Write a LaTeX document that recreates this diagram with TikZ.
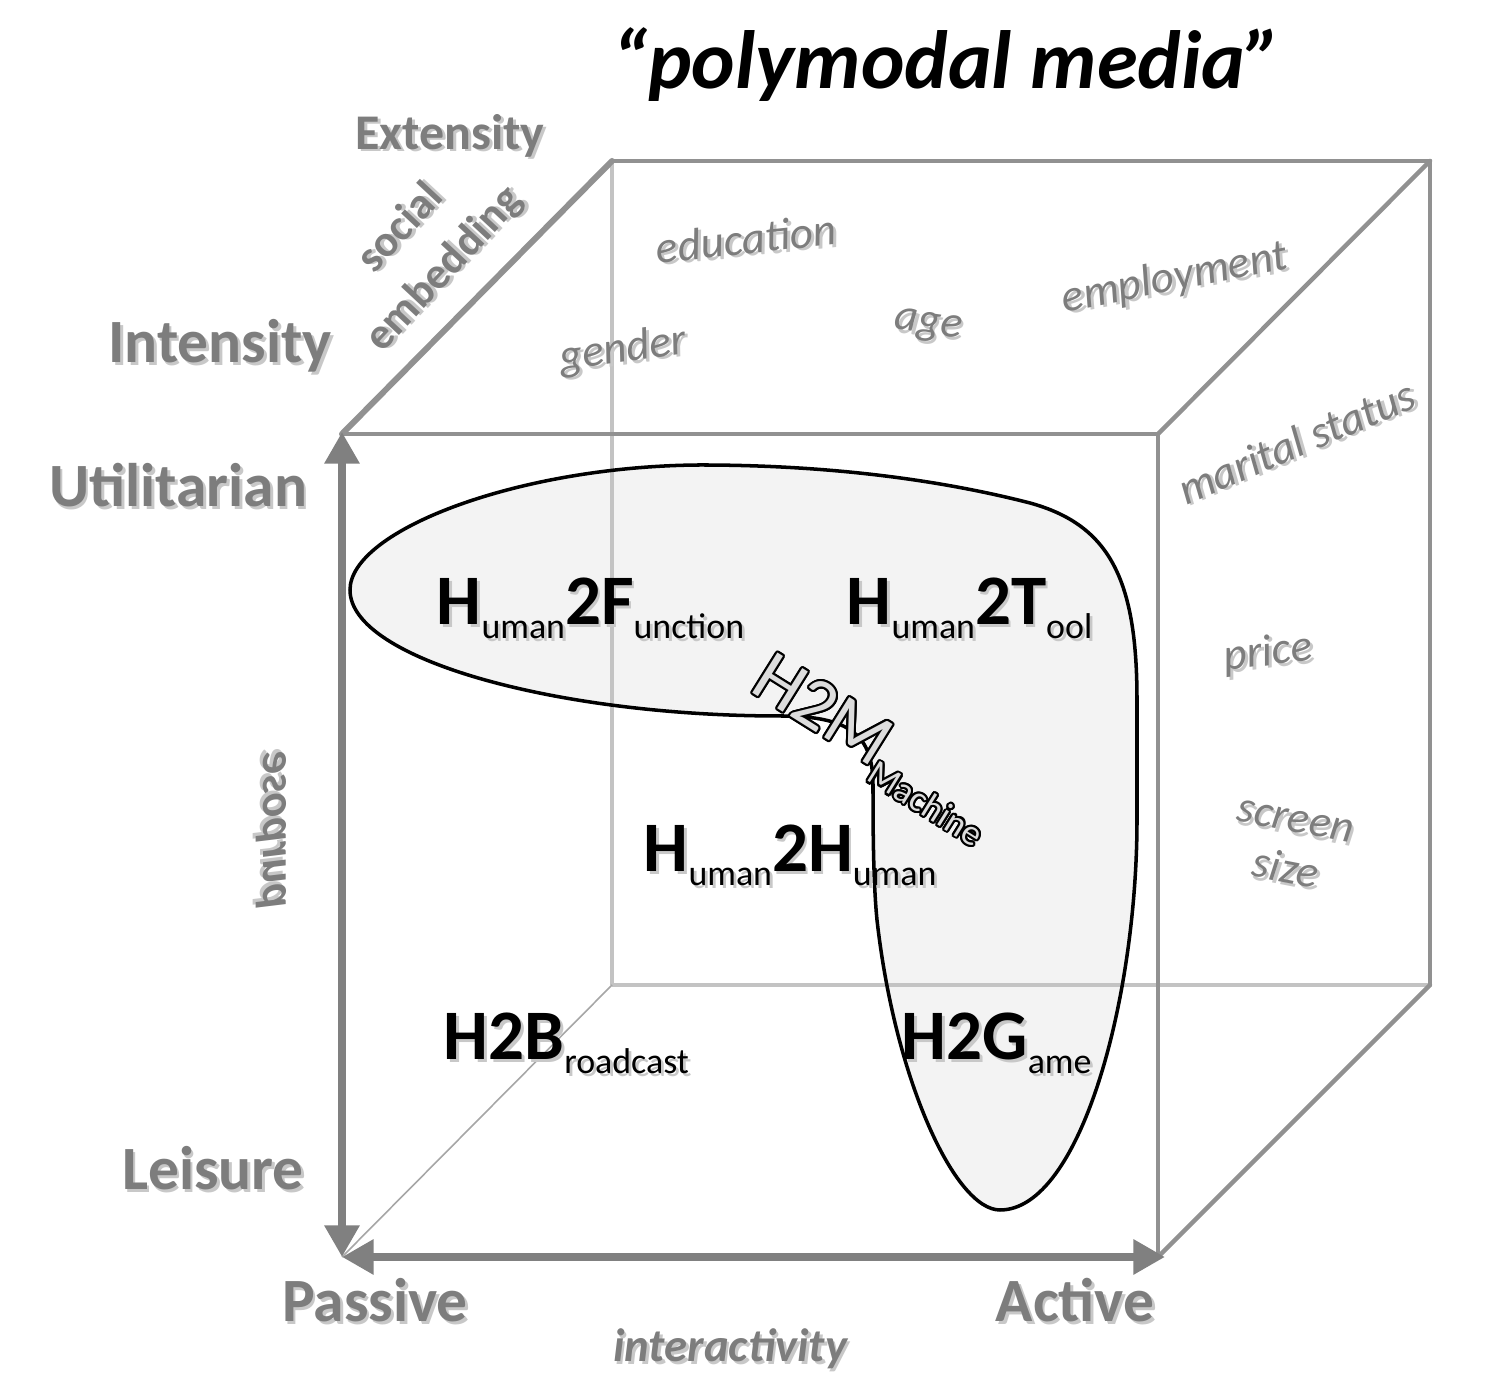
\documentclass[tikz,border=0pt]{standalone}
\usepackage{fontspec}
\setmainfont{Carlito}
\usepackage[copies]{contour}
\usetikzlibrary{arrows.meta}
\definecolor{labgray}{RGB}{125,125,125}
\definecolor{edgegray}{RGB}{145,145,145}
\definecolor{lightedge}{RGB}{195,195,195}
\definecolor{blobfill}{RGB}{243,243,243}
\definecolor{arrgray}{RGB}{128,128,128}
\definecolor{hmfill}{RGB}{220,220,220}
\definecolor{shadowc}{RGB}{200,200,200}
\contourlength{0.6pt}
\newcommand\shd[1]{\leavevmode\rlap{\raisebox{-0.8pt}{\hspace{0.8pt}\textcolor{shadowc}{#1}}}#1}
\newcommand\hsub[1]{\raisebox{-3.9pt}{\fontsize{10.2}{12}\selectfont\mdseries #1}}
\newcommand\hlab[1]{\fontsize{20.2}{22}\selectfont\bfseries\shd{#1}}
\tikzset{
  axislab/.style={text=labgray, font=\fontsize{17.5}{20}\selectfont\bfseries, inner sep=0},
  axisname/.style={text=labgray, font=\fontsize{13.3}{17}\selectfont\bfseries\itshape, inner sep=0},
  featlab/.style={text=labgray, font=\fontsize{12.8}{14.5}\selectfont\itshape, inner sep=0},
  hnode/.style={anchor=base west, inner sep=0, text=black},
  edge/.style={draw=edgegray, line width=1.25pt, line cap=round},
  lightline/.style={draw=lightedge, line width=1.1pt},
  axisarrow/.style={draw=arrgray, line width=2.4pt,
    {Triangle[length=9pt,width=9.5pt]}-{Triangle[length=9pt,width=9.5pt]}},
  blobline/.style={draw=black, line width=1pt},
}
\begin{document}
\begin{tikzpicture}[x=0.01cm,y=-0.01cm]
\useasboundingbox (0,0) rectangle (1493,1380);
\fill[white] (0,0) rectangle (1493,1380);

% cube corners
\coordinate (FTL) at (342,434);
\coordinate (FTR) at (1158,434);
\coordinate (FBR) at (1158,1257);
\coordinate (FBL) at (342,1257);
\coordinate (BTL) at (612,161);
\coordinate (BTR) at (1430,161);
\coordinate (BBR) at (1430,985);
\coordinate (BBL) at (612,985);
\coordinate (VTop) at (342,432);
\coordinate (HEnd) at (1165,1257);

% blob path
\def\blobpath{(350,590) .. controls (350,530) and (520,466) .. (700,465)
  .. controls (850,465) and (960,485) .. (1030,503)
  .. controls (1110,525) and (1137,580) .. (1137,700)
  -- (1137,820)
  .. controls (1137,1000) and (1080,1210) .. (1000,1210)
  .. controls (955,1210) and (895,1080) .. (877,920)
  .. controls (873,880) and (873,820) .. (873,785)
  .. controls (873,735) and (850,716) .. (780,716)
  .. controls (560,716) and (350,660) .. (350,590) -- cycle}
\path[fill=blobfill] \blobpath;

% back edges
\draw[lightline] (BTL) -- (BBL);
\draw[lightline, line width=1.3pt] (BBL) -- (BBR);
\draw[draw=gray!70, line width=0.45pt] (FBL) -- (BBL);
\draw[edge] (BTL) -- (BTR);
\draw[edge] (BTR) -- (BBR);
\draw[edge, line width=1.7pt] (FTL) -- (BTL);
\draw[edge] (FTR) -- (BTR);
\draw[edge] (FBR) -- (BBR);
\draw[edge, line width=1.15pt] (FTL) -- (FTR);
\draw[edge] (FTR) -- (FBR);

% blob outline
\draw[blobline] \blobpath;

% axis arrows
\draw[axisarrow] (FBL) -- (VTop);
\draw[axisarrow] (FBL) -- (HEnd);

% title
\node[font=\fontsize{23.5}{26}\selectfont\bfseries\itshape, inner sep=0] (title) at (947,65) {“polymodal media”};

% axis labels
\node[text=labgray, font=\fontsize{14.2}{16}\selectfont\bfseries, inner sep=0] (ext) at (450,137) {\shd{Extensity}};
\node[text=labgray, font=\fontsize{12.6}{17}\selectfont\bfseries, align=center, rotate=47, inner sep=0] (soc) at (424,250) {\shd{social}\\\shd{embedding}};
\node[axislab] (int) at (220,347) {\shd{Intensity}};
\node[axislab] (uti) at (178,487) {\shd{Utilitarian}};
\node[axislab] (lei) at (213,1170) {\shd{Leisure}};
\node[axislab] (pas) at (375,1302) {\shd{Passive}};
\node[axislab] (act) at (1075,1302) {\shd{Active}};
\node[axisname] (inter) at (730,1350) {\shd{interactivity}};
\node[axisname] (purp) at (270,830) {\scalebox{-1}[1]{\rotatebox{90}{\shd{purpose}}}};

% feature labels
\node[featlab, rotate=6] (edu) at (746,240) {\shd{education}};
\node[featlab, rotate=8] (gen) at (623,352) {\shd{gender}};
\node[featlab, rotate=-8] (age) at (928,328) {\shd{age}};
\node[featlab, rotate=11] (emp) at (1175,280) {\shd{employment}};
\node[featlab, rotate=23] (mar) at (1297,443) {\shd{marital status}};
\node[featlab, rotate=7] (pri) at (1268,655) {\shd{price}};
\node[featlab, rotate=-11, align=center] (scr) at (1290,848) {\shd{screen}\\\shd{size}};

% interaction labels
\node[hnode] (h2f) at (436,625) {\hlab{H\hsub{uman}2F\hsub{unction}}};
\node[hnode] (h2t) at (846,625) {\hlab{H\hsub{uman}2T\hsub{ool}}};
\node[hnode] (h2h) at (643,872) {\hlab{H\hsub{uman}2H\hsub{uman}}};
\node[hnode] (h2b) at (443,1060) {\hlab{H2B\hsub{roadcast}}};
\node[hnode] (h2g) at (901,1060) {\hlab{H2G\hsub{ame}}};
\node[hnode, rotate=-32] (h2m) at (748,690) {\contour{black}{\textcolor{hmfill}{\fontsize{21}{23}\selectfont H2M\raisebox{-4pt}{\fontsize{10.3}{11}\selectfont Machine}}}};
\end{tikzpicture}
\end{document}
